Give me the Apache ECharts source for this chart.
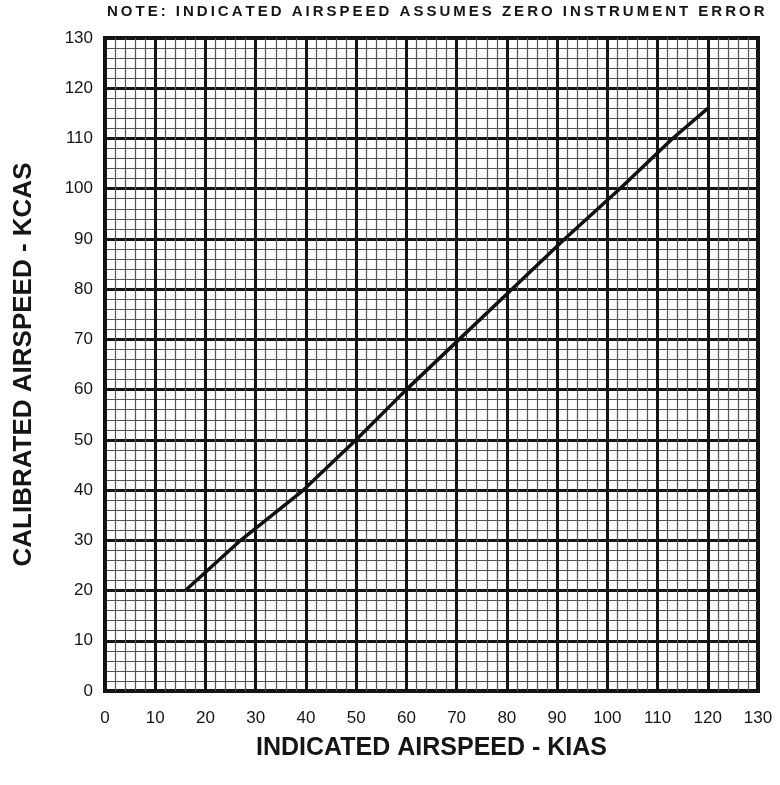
<!DOCTYPE html>
<html>
<head>
    <meta charset="utf-8">
    <title>Airspeed calibration</title>
    <script src="https://cdn.jsdelivr.net/npm/echarts@6/dist/echarts.min.js"></script>
    <style>
        html, body { margin: 0; padding: 0; background: #fff; }
        #chart1 { width: 780px; height: 785px; }
    </style>
</head>
<body>
<div id="chart1"></div>
<script type="text/javascript">
    // values
    var kias = [16, 27, 39.5, 50, 60, 70.5, 81, 91.5, 102.5, 113, 120];
    var kcas = [20, 30, 40, 50, 60, 70, 80, 90, 100, 110, 116];

    var axisMin = 0;
    var axisMax = 130;
    var axisStep = 10;

    var note = 'NOTE: INDICATED AIRSPEED ASSUMES ZERO INSTRUMENT ERROR';
    var xTitle = 'INDICATED AIRSPEED - KIAS';
    var yTitle = 'CALIBRATED AIRSPEED - KCAS';

    var points = [];
    for (var i = 0; i < kias.length; i++) {
        points.push([kias[i], kcas[i]]);
    }

    var font = '"Liberation Sans", Arial, Helvetica, sans-serif';

    function speedAxis(nameText, nameSize, nameGap, labelMargin) {
        return {
            type: 'value',
            min: axisMin,
            max: axisMax,
            interval: axisStep,
            name: nameText,
            nameLocation: 'middle',
            nameGap: nameGap,
            nameTextStyle: { fontFamily: font, fontSize: nameSize, fontWeight: 'bold', color: '#151515' },
            axisLine: { show: false },
            axisTick: { show: false },
            axisLabel: { margin: labelMargin, fontFamily: font, fontSize: 17, color: '#151515' },
            splitLine: { show: true, lineStyle: { color: '#151515', width: 3 } },
            minorTick: { show: false, splitNumber: 5 },
            minorSplitLine: { show: true, lineStyle: { color: '#555', width: 1.2 } }
        };
    }

    var myChart1 = echarts.init(document.getElementById('chart1'));

    myChart1.setOption({
        animation: false,
        backgroundColor: '#fff',
        graphic: [{
            type: 'text',
            left: 107,
            top: 4,
            style: {
                text: note.split('').join('\u2009'),
                font: 'bold 15px ' + font,
                fill: '#151515'
            }
        }],
        grid: {
            left: 105,
            top: 38,
            width: 653,
            height: 653,
            show: true,
            borderColor: '#111',
            borderWidth: 4
        },
        xAxis: speedAxis(xTitle, 25, 45, 19),
        yAxis: speedAxis(yTitle, 26, 68, 12),
        series: [{
            type: 'line',
            data: points,
            showSymbol: false,
            lineStyle: { color: '#111', width: 3.5 },
            z: 5
        }]
    });
</script>
</body>
</html>
